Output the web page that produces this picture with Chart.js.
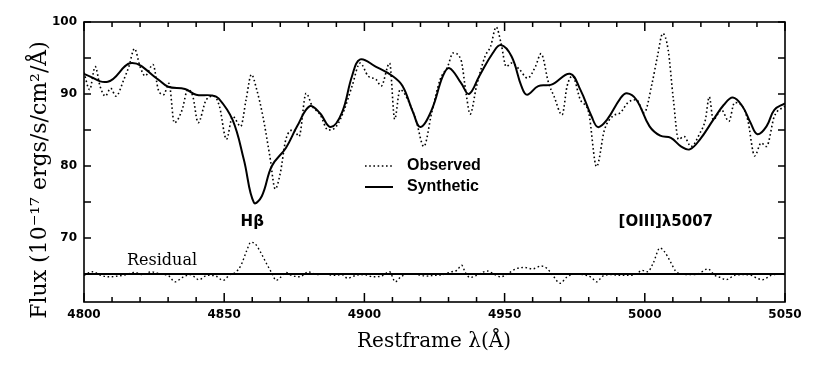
<!DOCTYPE html>
<html>
<head>
<meta charset="utf-8">
<script src="https://cdn.jsdelivr.net/npm/chart.js@4/dist/chart.umd.min.js"></script>
<style>
  html, body { margin: 0; padding: 0; background: #fff; }
  canvas { display: block; }
</style>
</head>
<body>
<canvas id="c" width="830" height="370"></canvas>
<script>
// ---------------- data ----------------
const obsWave = [4800,4802,4804,4805.7,4807.6,4809.5,4811.4,4814.2,4816,4818,4820,4821.8,4824.6,4826.5,4828.4,4830.3,4832.2,4835,4837,4838.8,4840.7,4843.6,4846.4,4848.3,4850.8,4853,4855.9,4857.8,4859.7,4861.6,4863.8,4866.3,4868.2,4870,4872,4874.8,4876.7,4879.2,4881.4,4884.3,4887,4890,4892.8,4895.6,4898.5,4901.3,4904.2,4906,4909,4910.8,4912.7,4915.5,4918.4,4921.2,4924,4927,4929.7,4931.6,4934.4,4936.4,4937.7,4940,4943,4945,4947,4948.7,4950.6,4952.5,4955.3,4958.2,4961,4963,4965.7,4967.6,4970.5,4972.3,4974.2,4977,4980,4982.8,4985.6,4988.5,4991.3,4994,4997,4999.8,5002.6,5004.5,5006.4,5008.3,5010.2,5012,5014,5016.5,5019.7,5021.6,5023,5024.4,5027.3,5030,5032,5034.8,5036.7,5039.2,5041.5,5043.4,5046.2,5050];
const obsFlux = [93.0,90.6,93.8,91.1,89.7,90.8,89.7,92.0,93.8,96.3,93.8,92.5,94.1,90.6,89.9,91.5,86.0,87.8,90.6,89.7,86.0,89.2,89.7,88.3,83.7,86.9,85.5,89.2,92.7,90.6,86.9,81.3,76.8,79.0,83.7,85.0,84.1,90.1,88.3,87.1,85.0,85.5,87.8,91.1,94.3,92.5,92.0,91.1,94.3,86.5,90.6,89.2,86.4,82.7,87.4,92.0,93.8,95.7,94.8,89.7,87.2,91.1,95.2,96.6,99.3,97.1,93.8,94.3,93.4,92.2,93.8,95.6,91.5,89.7,87.1,91.1,92.5,89.2,87.4,79.9,85.0,86.9,87.4,88.8,89.2,87.4,91.5,95.2,98.4,96.2,89.2,83.7,84.1,82.7,84.6,86.4,89.6,86.4,87.8,86.2,88.8,88.3,86.4,81.4,83.2,82.7,86.9,88.3];

const synWave = [4800,4808.5,4817,4826.5,4830,4836,4840,4845.5,4848,4853,4857,4860.6,4863.4,4867,4872,4876,4880.5,4884,4888,4892,4895.6,4898.5,4904,4910,4913.6,4917.4,4920,4924,4928,4930.3,4934.5,4937.3,4941,4945.8,4948.7,4952.5,4956,4958,4962,4966.7,4973.3,4977,4981,4983.3,4986.5,4991.3,4993.6,4997,5001.7,5005.5,5009.3,5013,5016,5019.7,5024.4,5028.2,5031.4,5034.8,5037.7,5040.2,5043.4,5046.2,5050];
const synFlux = [92.8,91.7,94.3,92.0,91.0,90.7,89.9,89.8,89.4,86.4,80.9,74.9,75.8,80.0,82.5,85.5,88.3,87.4,85.4,87.4,92.5,94.8,93.8,92.5,91.1,87.4,85.4,87.8,92.5,93.6,91.5,90.0,92.5,95.7,96.8,95.2,91.1,89.9,91.1,91.3,92.8,90.6,86.9,85.4,86.4,89.4,90.1,89.2,85.5,84.2,83.9,82.7,82.3,83.7,86.4,88.5,89.5,88.3,86.0,84.4,85.5,87.8,88.7];

const resWave = [4800,4803,4806,4809,4812,4815,4818,4821,4824,4827,4830,4832.5,4835,4838,4841,4844,4847,4849.6,4852,4854,4856,4858,4859.5,4861,4863,4865,4867,4868.5,4870,4872,4874,4877,4880,4883,4886,4889,4892,4894,4897,4900,4903,4906,4909,4911,4913,4916,4919,4922,4925,4928,4931,4933,4934.7,4936,4937.7,4940,4942,4944,4946,4948.6,4951,4954,4957,4960,4963,4965,4967,4969.8,4972,4975,4978,4981,4982.8,4985,4988,4991,4994,4997,4999,5001,5003,5005.4,5007,5009,5011,5013,5016,5019,5022.5,5025,5027,5029,5032,5035,5038,5040,5042,5045,5048,5050];
const resFlux = [64.8,65.3,64.8,64.6,64.7,64.9,65.2,64.9,65.3,65.0,64.8,63.9,64.5,64.9,64.2,64.8,64.7,64.1,64.9,65.2,66.2,68.2,69.4,69.2,68.0,66.5,65.1,64.1,64.5,65.2,64.8,64.6,65.3,64.9,65.0,64.8,64.9,64.4,64.8,64.9,64.6,64.7,65.3,63.9,64.6,65.0,64.9,64.7,64.8,64.9,65.3,65.5,66.2,65.2,64.5,64.8,65.2,65.4,65.0,64.6,65.0,65.7,65.9,65.7,66.1,65.8,64.9,63.7,64.5,65.0,64.9,64.5,63.9,64.7,64.9,64.8,64.8,65.0,65.5,65.3,66.5,68.6,68.1,66.8,65.4,65.0,64.9,65.0,65.7,64.8,64.5,64.2,64.8,64.9,64.8,64.4,64.2,64.8,65.0,64.9];

const zeroWave = [4800, 5050];
const zeroFlux = [65, 65];

const xTickLabels = [4800, 4850, 4900, 4950, 5000, 5050];
const yTickLabels = [70, 80, 90, 100];

// ---------------- build ----------------
const pts = (xs, ys) => xs.map((x, i) => ({ x, y: ys[i] }));

const frame = {
  id: 'frame',
  beforeDraw(c) {
    const ctx = c.ctx;
    ctx.save();
    ctx.fillStyle = '#fff';
    ctx.fillRect(0, 0, c.width, c.height);
    ctx.restore();
  },
  afterDraw(c) {
    const { ctx, chartArea: a, scales: { x, y } } = c;
    ctx.save();
    ctx.strokeStyle = '#000';
    ctx.lineWidth = 1.6;
    ctx.strokeRect(a.left, a.top, a.right - a.left, a.bottom - a.top);
    ctx.lineWidth = 1.5;
    ctx.beginPath();
    for (let v = 4800; v <= 5050; v += 10) {
      const px = x.getPixelForValue(v);
      const L = xTickLabels.includes(v) ? 9 : 5;
      ctx.moveTo(px, a.bottom); ctx.lineTo(px, a.bottom - L);
      ctx.moveTo(px, a.top); ctx.lineTo(px, a.top + L);
    }
    for (let v = 65; v <= 100; v += 5) {
      const py = y.getPixelForValue(v);
      ctx.moveTo(a.left, py); ctx.lineTo(a.left + 7, py);
      ctx.moveTo(a.right, py); ctx.lineTo(a.right - 7, py);
    }
    ctx.stroke();

    ctx.fillStyle = '#000';
    // axis titles
    ctx.textAlign = 'center';
    ctx.textBaseline = 'middle';
    ctx.font = '20px "DejaVu Serif"';
    ctx.fillText('Restframe λ(Å)', 434, 342);
    ctx.save();
    ctx.translate(40, 180);
    ctx.rotate(-Math.PI / 2);
    ctx.font = '22px "DejaVu Serif"';
    ctx.fillText('Flux (10⁻¹⁷ ergs/s/cm²/Å)', 0, 0);
    ctx.restore();

    // legend
    ctx.lineWidth = 1.6;
    ctx.setLineDash([1.6, 2.6]);
    ctx.beginPath(); ctx.moveTo(365, 166); ctx.lineTo(393, 166); ctx.stroke();
    ctx.setLineDash([]);
    ctx.lineWidth = 2;
    ctx.beginPath(); ctx.moveTo(365, 187); ctx.lineTo(393, 187); ctx.stroke();
    ctx.textAlign = 'left';
    ctx.font = 'bold 16px "Liberation Sans"';
    ctx.fillText('Observed', 407, 166);
    ctx.fillText('Synthetic', 407, 187);

    // annotations
    ctx.textAlign = 'center';
    ctx.font = 'bold 15px "DejaVu Sans"';
    ctx.fillText('Hβ', x.getPixelForValue(4860), 222);
    ctx.fillText('[OIII]λ5007', x.getPixelForValue(5007.5), 222);
    ctx.font = '16px "DejaVu Serif"';
    ctx.textAlign = 'left';
    ctx.fillText('Residual', 127, 261);
    ctx.restore();
  }
};

new Chart(document.getElementById('c'), {
  type: 'line',
  data: {
    datasets: [
      { label: 'Observed', data: pts(obsWave, obsFlux), borderColor: '#000', borderWidth: 1.6, borderDash: [1.6, 2.6], pointRadius: 0, cubicInterpolationMode: 'monotone', fill: false },
      { label: 'Synthetic', data: pts(synWave, synFlux), borderColor: '#000', borderWidth: 2, pointRadius: 0, tension: 0.4, fill: false },
      { label: 'Residual', data: pts(resWave, resFlux), borderColor: '#000', borderWidth: 1.4, borderDash: [1.6, 2.6], pointRadius: 0, cubicInterpolationMode: 'monotone', fill: false },
      { label: 'Zero', data: pts(zeroWave, zeroFlux), borderColor: '#000', borderWidth: 2, pointRadius: 0, fill: false }
    ]
  },
  options: {
    responsive: false,
    animation: false,
    devicePixelRatio: 1,
    layout: { padding: { left: 0, right: 45, top: 22, bottom: 0 } },
    plugins: { legend: { display: false }, tooltip: { enabled: false } },
    scales: {
      x: {
        type: 'linear', min: 4800, max: 5050,
        grid: { display: false, drawTicks: false },
        border: { display: false },
        afterFit: s => { s.height = 68; },
        ticks: {
          stepSize: 10, autoSkip: false, maxRotation: 0, padding: 6, color: '#000',
          font: { family: 'DejaVu Sans', weight: 'bold', size: 12 },
          callback: v => xTickLabels.includes(v) ? String(v) : ''
        }
      },
      y: {
        type: 'linear', min: 61.1, max: 100,
        grid: { display: false, drawTicks: false },
        border: { display: false },
        afterFit: s => { s.width = 84; },
        ticks: {
          stepSize: 5, autoSkip: false, padding: 7, color: '#000',
          font: { family: 'DejaVu Sans', weight: 'bold', size: 12 },
          callback: v => yTickLabels.includes(v) ? String(v) : ''
        }
      }
    }
  },
  plugins: [frame]
});
</script>
</body>
</html>
